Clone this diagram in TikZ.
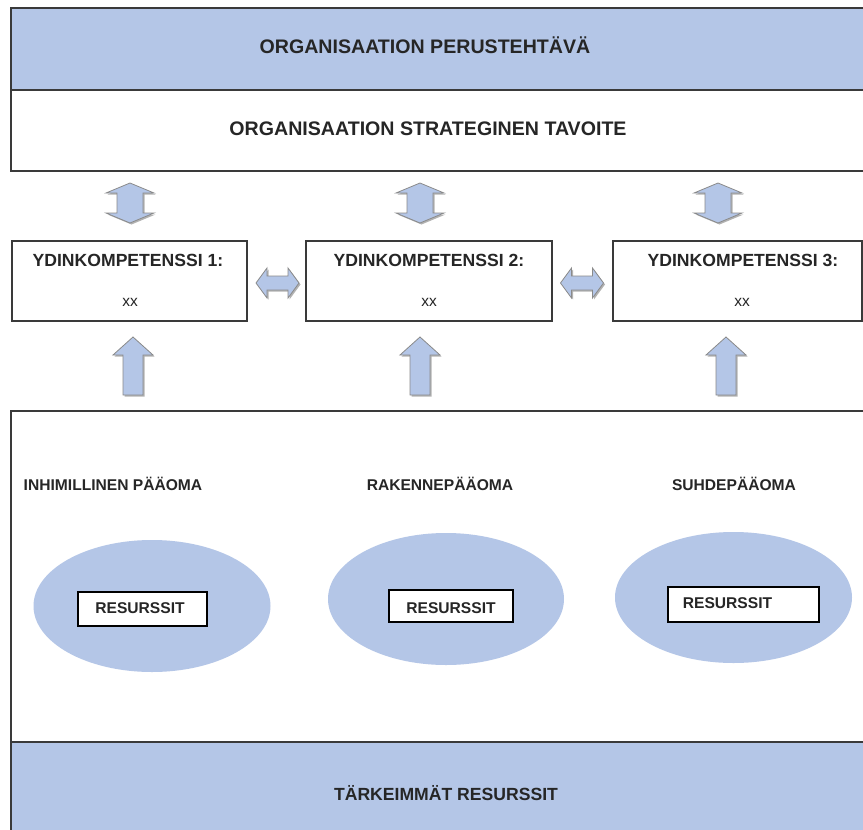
\documentclass[tikz,border=0pt]{standalone}
\usepackage{fontspec}
\setmainfont{Liberation Sans}
\usetikzlibrary{shadows,shapes.geometric}
\definecolor{lblue}{HTML}{B4C6E7}
\definecolor{txt}{HTML}{262626}
\definecolor{bord}{HTML}{3A3A3A}
\definecolor{arrline}{HTML}{8A8A8A}
\begin{document}
\begin{tikzpicture}[x=1pt,y=-1pt,
  panel/.style={draw=bord, line width=1.5pt, rectangle, anchor=north west, inner sep=0pt, outer sep=0pt},
  resbox/.style={draw=black, line width=1.1pt, fill=white, rectangle, anchor=north west, inner sep=0pt, outer sep=0pt},
  blob/.style={ellipse, fill=lblue, draw=none, inner sep=0pt},
  barrow/.style={fill=lblue, draw=arrline, line width=0.8pt, line join=miter,
     drop shadow={shadow xshift=1.5pt, shadow yshift=-1.5pt, opacity=0.3, fill=black}},
  big/.style={text=txt, font=\fontsize{19.6}{22}\selectfont\bfseries, anchor=base, inner sep=0pt},
  mid/.style={text=txt, font=\fontsize{17.6}{20}\selectfont\bfseries, anchor=base, inner sep=0pt},
  small/.style={text=txt, font=\fontsize{15.6}{18}\selectfont\bfseries, anchor=base, inner sep=0pt},
  xxs/.style={text=txt, font=\fontsize{15.5}{17}\selectfont, anchor=base, inner sep=0pt}
]
\useasboundingbox (0,0) rectangle (863,830);
\clip (0,0) rectangle (863,830);
\fill[white] (0,0) rectangle (863,830);

% top panels
\node[panel, fill=lblue, minimum width=900pt, minimum height=82pt] (mission) at (11,8) {};
\node[panel, fill=white, minimum width=900pt, minimum height=81pt] (goal) at (11,90) {};
\node[big] (missiont) at (425,53) {ORGANISAATION PERUSTEHTÄVÄ};
\node[big] (goalt) at (428,135) {ORGANISAATION STRATEGINEN TAVOITE};

% competence boxes
\node[panel, fill=white, minimum width=235pt, minimum height=80pt] (k1) at (12,241) {};
\node[panel, fill=white, minimum width=246pt, minimum height=80pt] (k2) at (306,241) {};
\node[panel, fill=white, minimum width=249pt, minimum height=80pt] (k3) at (613,241) {};
\node[mid] (k1t) at (128,266) {YDINKOMPETENSSI 1:};
\node[mid] (k2t) at (429,266) {YDINKOMPETENSSI 2:};
\node[mid] (k3t) at (743,266) {YDINKOMPETENSSI 3:};
\node[xxs] (k1x) at (130,306) {xx};
\node[xxs] (k2x) at (429,306) {xx};
\node[xxs] (k3x) at (742,306) {xx};

% resources panel
\node[panel, fill=white, minimum width=900pt, minimum height=331pt] (res) at (11,411) {};
\node[panel, fill=lblue, minimum width=900pt, minimum height=120pt] (key) at (11,742) {};
\node[mid] (keyt) at (446,800) {TÄRKEIMMÄT RESURSSIT};

\node[small] (c1) at (113,490) {INHIMILLINEN PÄÄOMA};
\node[small] (c2) at (440,490) {RAKENNEPÄÄOMA};
\node[small] (c3) at (734,490) {SUHDEPÄÄOMA};

\node[blob, minimum width=237pt, minimum height=132pt] (e1) at (152,606) {};
\node[blob, minimum width=236pt, minimum height=132pt] (e2) at (446,599) {};
\node[blob, minimum width=237pt, minimum height=131pt] (e3) at (733.5,597.5) {};

\node[resbox, minimum width=129pt, minimum height=34pt] (r1) at (78,592) {};
\node[resbox, minimum width=124pt, minimum height=32pt] (r2) at (389,590) {};
\node[resbox, minimum width=151pt, minimum height=35pt] (r3) at (668,587) {};
\node[small] (r1t) at (140,613) {RESURSSIT};
\node[small] (r2t) at (451,613) {RESURSSIT};
\node[small] (r3t) at (727.5,608) {RESURSSIT};

% up-down arrows between goal and competences
\coordinate (ud1) at (130,203);
\coordinate (ud2) at (420,203);
\coordinate (ud3) at (718,203);
\foreach \c in {ud1,ud2,ud3}{
  \draw[barrow] (\c) ++(0,-20) -- ++(24,10) -- ++(-11,0) -- ++(0,20) -- ++(11,0)
     -- ++(-24,10) -- ++(-24,-10) -- ++(11,0) -- ++(0,-20) -- ++(-11,0) -- cycle;
}

% left-right arrows between competences
\coordinate (lr1) at (277.5,283);
\coordinate (lr2) at (582,283);
\foreach \c in {lr1,lr2}{
  \draw[barrow] (\c) ++(-21.5,0) -- ++(11,-15) -- ++(0,8) -- ++(21,0) -- ++(0,-8)
     -- ++(11,15) -- ++(-11,15) -- ++(0,-8) -- ++(-21,0) -- ++(0,8) -- cycle;
}

% up arrows from resources to competences
\coordinate (u1) at (133,366);
\coordinate (u2) at (420,366);
\coordinate (u3) at (726,366);
\foreach \c in {u1,u2,u3}{
  \draw[barrow] (\c) ++(0,-29) -- ++(20,18) -- ++(-10,0) -- ++(0,40) -- ++(-20,0)
     -- ++(0,-40) -- ++(-10,0) -- cycle;
}
\end{tikzpicture}
\end{document}
